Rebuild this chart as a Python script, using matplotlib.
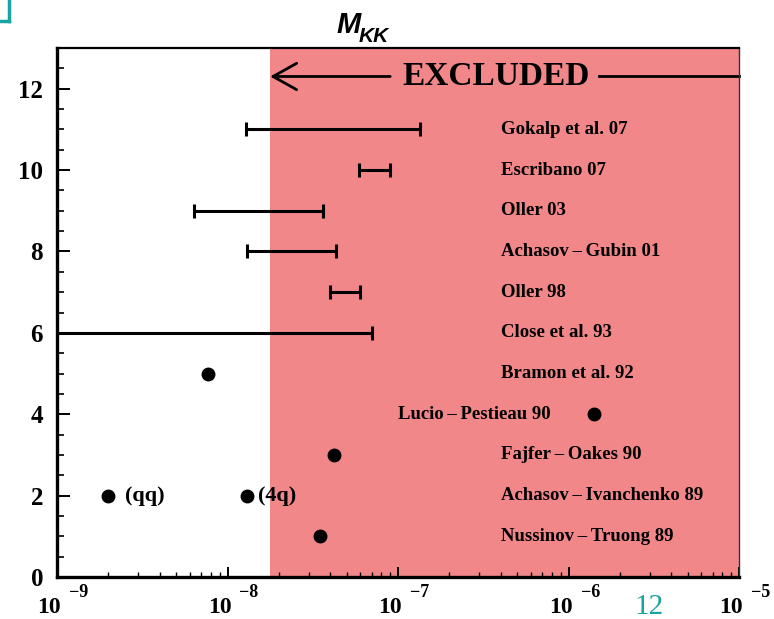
import numpy as np
import matplotlib.pyplot as plt
from matplotlib.lines import Line2D
from matplotlib.transforms import offset_copy

# f0 -> gamma gamma / phi -> f0 gamma branching estimates, one row per reference
rows = [1, 2, 3, 4, 5, 6, 7, 8, 9, 10, 11]
refs = ["Nussinov\u2009\u2013\u2009Truong 89", "Achasov\u2009\u2013\u2009Ivanchenko 89",
        "Fajfer\u2009\u2013\u2009Oakes 90", "Lucio\u2009\u2013\u2009Pestieau 90",
        "Bramon et al. 92", "Close et al. 93", "Oller 98",
        "Achasov\u2009\u2013\u2009Gubin 01", "Oller 03", "Escribano 07",
        "Gokalp et al. 07"]
ref_x = [4e-7, 4e-7, 4e-7, 1e-7, 4e-7, 4e-7, 4e-7, 4e-7, 4e-7, 4e-7, 4e-7]

# single-value predictions
pt_row = [1, 2, 2, 3, 4, 5]
pt_val = [3.5e-8, 2.0e-9, 1.3e-8, 4.2e-8, 1.42e-6, 7.7e-9]

# range predictions (low, high)
rng_row = [6, 7, 8, 9, 10, 11]
rng_lo = [5e-10, 4.0e-8, 1.3e-8, 6.4e-9, 5.9e-8, 1.28e-8]
rng_hi = [7.0e-8, 6.0e-8, 4.3e-8, 3.65e-8, 9.0e-8, 1.35e-7]

excl_lo = 1.78e-8
excl_hi = 1e-5

serif = ['Liberation Serif', 'DejaVu Serif']

fig = plt.figure(figsize=(7.74, 6.19), dpi=100)
ax = fig.add_axes([57/774, 42/619, 682/774, 529/619])
ax.set_xscale('log')
ax.set_xlim(1e-9, 1e-5)
ax.set_ylim(0, 13)

ax.axvspan(excl_lo, excl_hi, color='#f2878a', zorder=0, lw=0)

c = np.sqrt(np.array(rng_lo) * np.array(rng_hi))
ax.errorbar(c, rng_row, xerr=[c - np.array(rng_lo), np.array(rng_hi) - c],
            fmt='none', ecolor='black', elinewidth=2.2, capsize=5, capthick=2.2)
ax.plot(pt_val, pt_row, 'o', color='black', markersize=9)

for r, s, x in zip(rows, refs, ref_x):
    ax.text(x, r, s, family=serif, fontweight='bold', fontsize=13.5,
            ha='left', va='center')
ax.text(2.5e-9, 2, '(qq)', family=serif, fontweight='bold', fontsize=16, va='center')
ax.text(1.5e-8, 2, '(4q)', family=serif, fontweight='bold', fontsize=16, va='center')

# excluded band marker
ax.annotate('', xy=(excl_lo, 12.3), xytext=(9e-8, 12.3),
            arrowprops=dict(arrowstyle='->,head_length=1.7,head_width=0.95',
                            lw=2, color='black', shrinkA=0, shrinkB=0))
ax.plot([1.5e-6, excl_hi], [12.3, 12.3], color='black', lw=2, clip_on=False)
ax.text(0.644, 12.3, 'EXCLUDED', transform=ax.get_yaxis_transform(),
        family=serif, fontweight='bold', fontsize=24, ha='center', va='center')

# axis frame and ticks
for side in ['left', 'bottom']:
    ax.spines[side].set_linewidth(2.4)
ax.spines['top'].set_linewidth(1.6)
ax.spines['right'].set_linewidth(1.0)
ax.spines['right'].set_color('#333333')

ax.set_yticks([0, 2, 4, 6, 8, 10, 12])
ax.set_yticks(np.arange(0, 13.01, 0.5), minor=True)
ax.tick_params(axis='y', which='major', direction='in', length=9, width=1.4,
               pad=10, right=False)
ax.tick_params(axis='y', which='minor', direction='in', length=5, width=1.2,
               right=False)
ax.tick_params(axis='x', which='major', direction='in', length=7, width=1.4,
               top=False, labelbottom=False)
ax.tick_params(axis='x', which='minor', direction='in', length=3.5, width=1.0,
               top=False)
for lab in ax.get_yticklabels():
    lab.set_family(serif)
    lab.set_fontweight('bold')
    lab.set_fontsize(18)

# ROOT style decade labels: "10" left of tick, exponent raised to the right
xtr = ax.get_xaxis_transform()
for e in [-9, -8, -7, -6, -5]:
    ax.text(10.0**e, 0, '10', family=serif, fontweight='bold', fontsize=17,
            ha='center', va='baseline',
            transform=offset_copy(xtr, fig=fig, x=-8, y=-36, units='dots'))
    ax.text(10.0**e, 0, '\u2212%d' % -e, family=serif, fontweight='bold',
            fontsize=13, ha='left', va='baseline',
            transform=offset_copy(xtr, fig=fig, x=12, y=-20, units='dots'))

# title
fig.text(336/774, 1 - 33/619, 'M', family=['Liberation Sans'], fontweight='bold',
         fontstyle='italic', fontsize=21, ha='left', va='baseline')
fig.text(359/774, 1 - 42/619, 'KK', family=['Liberation Sans'], fontweight='bold',
         fontstyle='italic', fontsize=15, ha='left', va='baseline')

# slide decorations
teal = '#1aa3a3'
fig.text(634/774, 1 - 614/619, '12', family=serif, fontsize=21, color=teal,
         ha='left', va='baseline')
fig.add_artist(Line2D([9/774, 9/774], [1, 1 - 21/619], color=teal, lw=2.5))
fig.add_artist(Line2D([0, 9/774], [1 - 21/619, 1 - 21/619], color=teal, lw=2.5))

fig.savefig('out.png', dpi=100)
